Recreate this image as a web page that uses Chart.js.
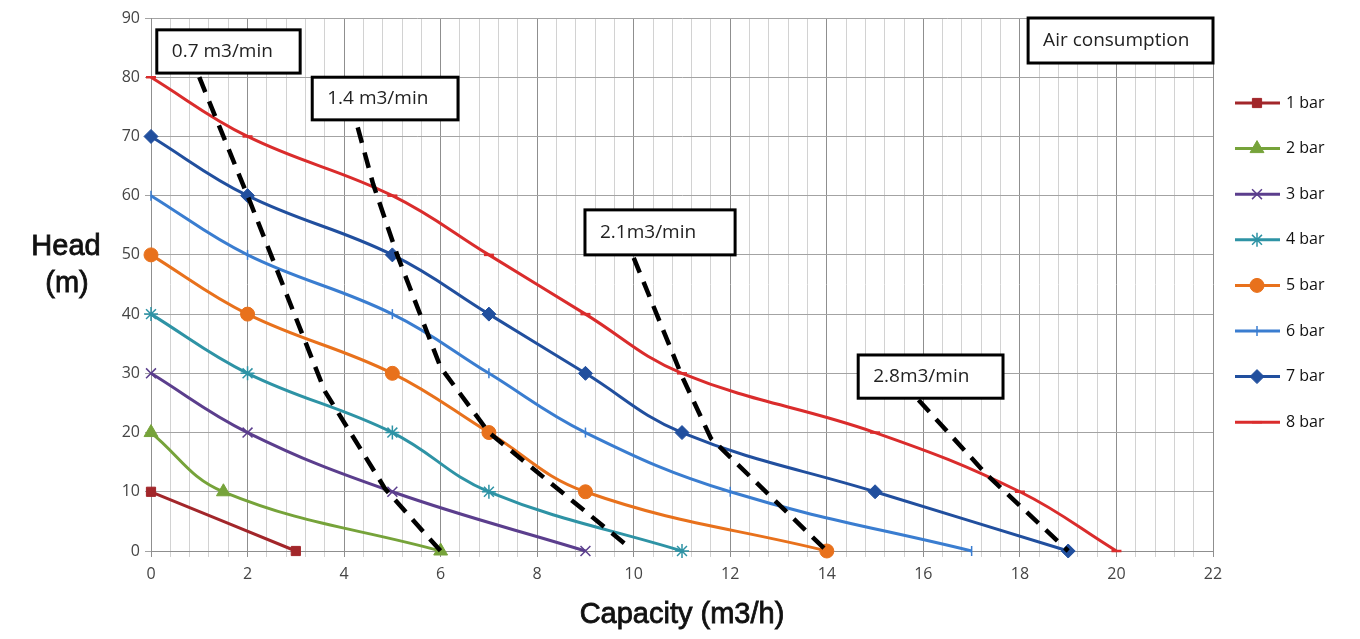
<!DOCTYPE html>
<html>
<head>
<meta charset="utf-8">
<title>Pump curves</title>
<script src="https://cdn.jsdelivr.net/npm/chart.js@4.4.1/dist/chart.umd.min.js"></script>
<style>
  html, body { margin: 0; padding: 0; background: #fff; }
  #wrap { width: 1360px; height: 639px; position: relative; }
</style>
</head>
<body>
<div id="wrap"><canvas id="pumpChart" width="1360" height="639"></canvas></div>
<script>
// pump performance per air pressure: capacity (m3/h) and head (m)
const cap1 = [0, 3];
const head1 = [10, 0];
const cap2 = [0, 1.5, 6];
const head2 = [20, 10, 0];
const cap3 = [0, 2, 5, 9];
const head3 = [30, 20, 10, 0];
const cap4 = [0, 2, 5, 7, 11];
const head4 = [40, 30, 20, 10, 0];
const cap5 = [0, 2, 5, 7, 9, 14];
const head5 = [50, 40, 30, 20, 10, 0];
const cap6 = [0, 2, 5, 7, 9, 12, 17];
const head6 = [60, 50, 40, 30, 20, 10, 0];
const cap7 = [0, 2, 5, 7, 9, 11, 15, 19];
const head7 = [70, 60, 50, 40, 30, 20, 10, 0];
const cap8 = [0, 2, 5, 7, 9, 11, 15, 18, 20];
const head8 = [80, 70, 60, 50, 40, 30, 20, 10, 0];

const seriesNames = ['1 bar', '2 bar', '3 bar', '4 bar', '5 bar', '6 bar', '7 bar', '8 bar'];

// air consumption lines (dashed)
const air07Cap = [1.0, 2.05, 3.6, 4.85, 6.0];
const air07Head = [80, 59, 27, 10.5, 0];
const air14Cap = [4.0, 4.6, 5.1, 6.0, 7.0, 9.85];
const air14Head = [80, 62, 50, 31, 20, 1];
const air21Cap = [10.0, 11.0, 11.6, 14.0];
const air21Head = [49.5, 29.5, 19, 0];
const air28Cap = [15.9, 17.3, 19.0];
const air28Head = [25.5, 13, 0];

const airLabels = ['0.7 m3/min', '1.4 m3/min', '2.1m3/min', '2.8m3/min', 'Air consumption'];

const xTicks = [0, 2, 4, 6, 8, 10, 12, 14, 16, 18, 20, 22];

// styling
const colors = ['#A2262A', '#76A33A', '#5B3E8D', '#2E93A5', '#E8711C', '#3A7DD0', '#214F9E', '#DA2C2C'];
const markers = [
  { style: 'rect', radius: 6.5, rot: 0, bw: 1 },
  { style: 'triangle', radius: 8, rot: 0, bw: 1 },
  { style: 'crossRot', radius: 7, rot: 0, bw: 1.5 },
  { style: 'star', radius: 7, rot: 0, bw: 1.5 },
  { style: 'circle', radius: 7, rot: 0, bw: 1 },
  { style: 'line', radius: 5, rot: 90, bw: 1.5 },
  { style: 'rectRot', radius: 7, rot: 0, bw: 1 },
  { style: 'line', radius: 5, rot: 0, bw: 2.5 }
];
// annotation boxes in data units: [x0, yTop, x1, yBottom]
const boxAnchors = [
  [0.12, 88.0, 3.09, 80.7],
  [3.34, 80.0, 6.36, 72.8],
  [8.99, 57.6, 12.1, 50.0],
  [14.65, 33.1, 17.65, 25.8],
  [18.17, 90.0, 22.0, 82.4]
];

function toPoints(xs, ys) {
  return xs.map((x, i) => ({ x: x, y: ys[i] }));
}

const capSets = [cap1, cap2, cap3, cap4, cap5, cap6, cap7, cap8];
const headSets = [head1, head2, head3, head4, head5, head6, head7, head8];

const datasets = [];
[[air07Cap, air07Head], [air14Cap, air14Head], [air21Cap, air21Head], [air28Cap, air28Head]].forEach((a, i) => {
  datasets.push({
    label: 'air' + i,
    data: toPoints(a[0], a[1]),
    showLine: true,
    borderColor: '#000',
    borderWidth: 4.5,
    borderDash: [16, 10],
    borderCapStyle: 'butt',
    pointRadius: 0,
    tension: 0,
    clip: false,
    order: 0
  });
});
seriesNames.forEach((name, i) => {
  const m = markers[i];
  datasets.push({
    label: name,
    data: toPoints(capSets[i], headSets[i]),
    showLine: true,
    borderColor: colors[i],
    backgroundColor: colors[i],
    borderWidth: 3,
    tension: 0.4,
    pointStyle: m.style,
    pointRadius: m.radius,
    pointRotation: m.rot,
    pointBorderWidth: m.bw,
    pointBorderColor: colors[i],
    pointBackgroundColor: colors[i],
    clip: false,
    order: 1
  });
});

function isMajor(v) {
  return Math.abs(v / 2 - Math.round(v / 2)) < 1e-6;
}

const extras = {
  id: 'extras',
  afterDatasetsDraw(chart) {
    const ctx = chart.ctx;
    const xs = chart.scales.x, ys = chart.scales.y;
    const area = chart.chartArea;
    ctx.save();

    // text boxes
    boxAnchors.forEach((b, i) => {
      const x0 = xs.getPixelForValue(b[0]);
      const x1 = xs.getPixelForValue(b[2]);
      const y0 = ys.getPixelForValue(b[1]);
      const y1 = ys.getPixelForValue(b[3]);
      ctx.fillStyle = '#fff';
      ctx.fillRect(x0, y0, x1 - x0, y1 - y0);
      ctx.strokeStyle = '#000';
      ctx.lineWidth = 3;
      ctx.strokeRect(x0, y0, x1 - x0, y1 - y0);
      ctx.fillStyle = '#222';
      ctx.font = '19px "Open Sans"';
      ctx.textAlign = 'left';
      ctx.textBaseline = 'middle';
      ctx.fillText(airLabels[i], x0 + 15, (y0 + y1) / 2);
    });

    // legend
    const lx = area.right + 22;
    let ly = area.top + 85;
    seriesNames.forEach((name, i) => {
      const m = markers[i];
      ctx.strokeStyle = colors[i];
      ctx.fillStyle = colors[i];
      ctx.lineWidth = 3;
      ctx.setLineDash([]);
      ctx.beginPath();
      ctx.moveTo(lx, ly);
      ctx.lineTo(lx + 45, ly);
      ctx.stroke();
      ctx.lineWidth = m.bw;
      Chart.helpers.drawPoint(ctx, {
        pointStyle: m.style,
        rotation: m.rot,
        radius: m.style === 'line' ? 5 : m.radius,
        borderWidth: m.bw
      }, lx + 22, ly);
      ctx.fillStyle = '#111';
      ctx.font = '16px "Open Sans"';
      ctx.textAlign = 'left';
      ctx.textBaseline = 'middle';
      ctx.fillText(name, lx + 51, ly);
      ly += 45.6;
    });

    // axis titles
    ctx.fillStyle = '#111';
    ctx.font = '29px "Liberation Sans"';
    ctx.textAlign = 'center';
    ctx.textBaseline = 'middle';
    ctx.lineWidth = 0.8;
    ctx.strokeStyle = '#111';
    [['Head', 66, 247], ['(m)', 67, 284], ['Capacity (m3/h)', (area.left + area.right) / 2, 615]].forEach((t) => {
      ctx.fillText(t[0], t[1], t[2]);
      ctx.strokeText(t[0], t[1], t[2]);
    });
    ctx.restore();
  }
};

const ctx = document.getElementById('pumpChart').getContext('2d');
new Chart(ctx, {
  type: 'scatter',
  data: { datasets: datasets },
  plugins: [extras],
  options: {
    responsive: false,
    animation: false,
    layout: { padding: { left: 0, top: 18, right: 147, bottom: 0 } },
    plugins: {
      legend: { display: false },
      tooltip: { enabled: false }
    },
    scales: {
      x: {
        type: 'linear',
        min: 0,
        max: 22,
        afterFit: (s) => { s.height = 88; },
        ticks: {
          stepSize: 0.4,
          autoSkip: false,
          maxRotation: 0,
          padding: 8,
          color: '#454545',
          font: { family: 'Open Sans', size: 16 },
          callback: (v) => (isMajor(v) && xTicks.includes(Math.round(v))) ? String(Math.round(v)) : ''
        },
        grid: {
          color: (c) => (c.tick && isMajor(c.tick.value)) ? '#8f8f8f' : '#d2d2d2',
          tickLength: 6,
          lineWidth: 1
        },
        border: { color: '#8f8f8f' }
      },
      y: {
        type: 'linear',
        min: 0,
        max: 90,
        afterFit: (s) => { s.width = 151; },
        ticks: {
          stepSize: 10,
          padding: 5,
          color: '#454545',
          font: { family: 'Open Sans', size: 16 }
        },
        grid: { color: '#a3a3a3', tickLength: 6 },
        border: { color: '#8f8f8f' }
      }
    }
  }
});
</script>
</body>
</html>
